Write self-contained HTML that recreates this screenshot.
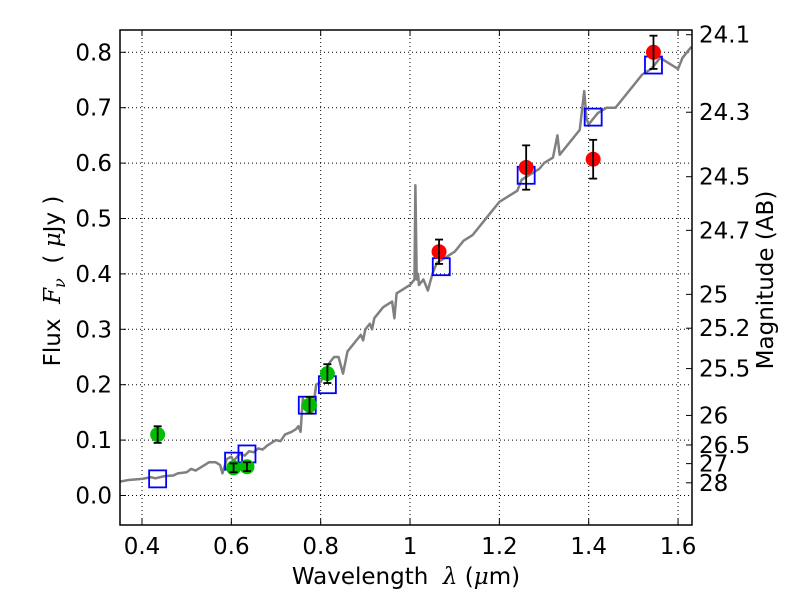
<!DOCTYPE html>
<html><head><meta charset="utf-8"><style>
body{margin:0;background:#fff}
svg text{font-family:"DejaVu Sans","Liberation Sans",sans-serif;fill:#000}
.m{font-family:"DejaVu Serif","Liberation Serif",serif;font-style:italic}
</style></head><body>
<svg id="chart" width="800" height="600" xmlns="http://www.w3.org/2000/svg"></svg>
<script>
const specLam=[0.35,0.37,0.40,0.42,0.43,0.45,0.47,0.48,0.50,0.51,0.52,0.53,0.54,0.55,0.565,0.575,0.58,0.59,0.60,0.605,0.615,0.62,0.63,0.64,0.65,0.66,0.67,0.68,0.69,0.70,0.71,0.72,0.735,0.745,0.75,0.755,0.76,0.765,0.775,0.785,0.79,0.80,0.815,0.82,0.83,0.84,0.85,0.86,0.87,0.88,0.89,0.895,0.90,0.91,0.915,0.92,0.93,0.94,0.95,0.96,0.965,0.97,0.98,1.0,1.01,1.012,1.015,1.018,1.02,1.03,1.04,1.05,1.06,1.08,1.10,1.12,1.14,1.16,1.18,1.20,1.22,1.24,1.25,1.27,1.29,1.30,1.32,1.33,1.335,1.34,1.36,1.38,1.39,1.395,1.40,1.42,1.44,1.46,1.48,1.50,1.52,1.54,1.56,1.58,1.60,1.61,1.62,1.63];
const specFlux=[0.025,0.028,0.03,0.033,0.031,0.035,0.036,0.04,0.042,0.048,0.045,0.05,0.055,0.06,0.06,0.055,0.04,0.066,0.07,0.062,0.072,0.075,0.072,0.08,0.078,0.085,0.083,0.09,0.095,0.10,0.098,0.11,0.115,0.12,0.125,0.115,0.175,0.165,0.16,0.17,0.2,0.205,0.23,0.24,0.25,0.25,0.22,0.26,0.27,0.28,0.29,0.28,0.30,0.31,0.30,0.32,0.33,0.34,0.345,0.35,0.32,0.365,0.37,0.38,0.39,0.56,0.39,0.40,0.38,0.39,0.37,0.40,0.42,0.43,0.44,0.46,0.47,0.49,0.51,0.53,0.54,0.55,0.57,0.58,0.59,0.60,0.61,0.65,0.615,0.62,0.64,0.66,0.73,0.68,0.67,0.69,0.70,0.70,0.72,0.74,0.76,0.77,0.79,0.78,0.77,0.79,0.80,0.81];
const greenLam=[0.435,0.605,0.635,0.775,0.815];
const greenFlux=[0.11,0.05,0.052,0.163,0.22];
const greenErr=[0.015,0.008,0.008,0.015,0.017];
const redLam=[1.065,1.26,1.41,1.545];
const redFlux=[0.44,0.592,0.607,0.80];
const redErr=[0.022,0.04,0.035,0.03];
const modelLam=[0.435,0.605,0.635,0.77,0.815,1.07,1.26,1.41,1.545];
const modelFlux=[0.03,0.062,0.075,0.163,0.20,0.413,0.578,0.683,0.777];
const xTicks=[0.4,0.6,0.8,1.0,1.2,1.4,1.6];
const xTickLabels=["0.4","0.6","0.8","1","1.2","1.4","1.6"];
const yTicks=[0,0.1,0.2,0.3,0.4,0.5,0.6,0.7,0.8];
const yTickLabels=["0.0","0.1","0.2","0.3","0.4","0.5","0.6","0.7","0.8"];
const magTicks=[24.1,24.3,24.5,24.7,25,25.2,25.5,26,26.5,27,28];
const magLabels=["24.1","24.3","24.5","24.7","25","25.2","25.5","26","26.5","27","28"];

const L=120,R=692,T=30,B=525;
const FS=23;
const x=v=>142+(v-0.4)*446.7;
const y=v=>495.5-v*554;
const svg=document.getElementById('chart');
const NS='http://www.w3.org/2000/svg';
function mk(tag,a,parent){const e=document.createElementNS(NS,tag);for(const k in a)e.setAttribute(k,a[k]);(parent||svg).appendChild(e);return e;}

const grid=mk('g',{});


xTicks.forEach(t=>mk('line',{x1:x(t),x2:x(t),y1:T,y2:B,stroke:'#000','stroke-width':1,'stroke-dasharray':'1,3'},grid));
yTicks.forEach(t=>mk('line',{x1:L,x2:R,y1:y(t),y2:y(t),stroke:'#000','stroke-width':1,'stroke-dasharray':'1,3'},grid));

const sp=mk('polyline',{points:specLam.map((l,i)=>x(l)+','+y(specFlux[i])).join(' '),fill:'none',stroke:'#808080','stroke-width':2.5,'stroke-linejoin':'round'});



modelLam.forEach((l,i)=>{
 const r=mk('rect',{x:x(l)-8.5,y:y(modelFlux[i])-8.5,width:17,height:17,fill:'none',stroke:'#0000ff','stroke-width':1.8});
 
 
});
function pts(lams,fl,er,col,name){
 lams.forEach((l,i)=>{
  const c=mk('circle',{cx:x(l),cy:y(fl[i]),r:7.5,fill:col});
  
  
  const g=mk('g',{stroke:'#000','stroke-width':1.8});
  
  
  const xc=x(l),y1=y(fl[i]+er[i]),y2=y(fl[i]-er[i]);
  mk('line',{x1:xc,x2:xc,y1:y1,y2:y2},g);
  mk('line',{x1:xc-4,x2:xc+4,y1:y1,y2:y1},g);
  mk('line',{x1:xc-4,x2:xc+4,y1:y2,y2:y2},g);
 });
}
pts(greenLam,greenFlux,greenErr,'#00bf00','green-point');
pts(redLam,redFlux,redErr,'#ff0000','red-point');

const fr=mk('rect',{x:L,y:T,width:R-L,height:B-T,fill:'none',stroke:'#000','stroke-width':1.5});



xTicks.forEach((t,i)=>{
 mk('line',{x1:x(t),x2:x(t),y1:B,y2:B-6,stroke:'#000'});mk('line',{x1:x(t),x2:x(t),y1:T,y2:T+6,stroke:'#000'});
 const tx=mk('text',{x:x(t),y:B+29,'text-anchor':'middle','font-size':FS});tx.textContent=xTickLabels[i];
 
 
});
yTicks.forEach((t,i)=>{
 mk('line',{x1:L,x2:L+6,y1:y(t),y2:y(t),stroke:'#000'});
 const tx=mk('text',{x:L-8,y:y(t)+8,'text-anchor':'end','font-size':FS});tx.textContent=yTickLabels[i];
 
 
});
magTicks.forEach((m,i)=>{
 const f=Math.pow(10,(23.9-m)/2.5);
 mk('line',{x1:R,x2:R-6,y1:y(f),y2:y(f),stroke:'#000'});
 const tx=mk('text',{x:R+7,y:y(f)+8,'font-size':FS});tx.textContent=magLabels[i];
 
 
});
const xt=mk('text',{x:406,y:584,'text-anchor':'middle','font-size':FS});
xt.innerHTML='Wavelength\u00a0\u00a0<tspan class="m">λ</tspan> (<tspan class="m">μ</tspan>m)';


const yt=mk('text',{x:0,y:0,'text-anchor':'middle','font-size':FS,transform:'translate(60,281) rotate(-90)'});
yt.innerHTML='Flux\u00a0\u00a0<tspan class="m">F</tspan><tspan class="m" font-size="16" dy="5">ν</tspan><tspan dy="-5">\u00a0\u00a0(\u00a0</tspan><tspan class="m">μ</tspan>Jy )';


const yt2=mk('text',{x:0,y:0,'text-anchor':'middle','font-size':FS,transform:'translate(773,280) rotate(-90)'});
yt2.textContent='Magnitude (AB)';


</script>
</body></html>
